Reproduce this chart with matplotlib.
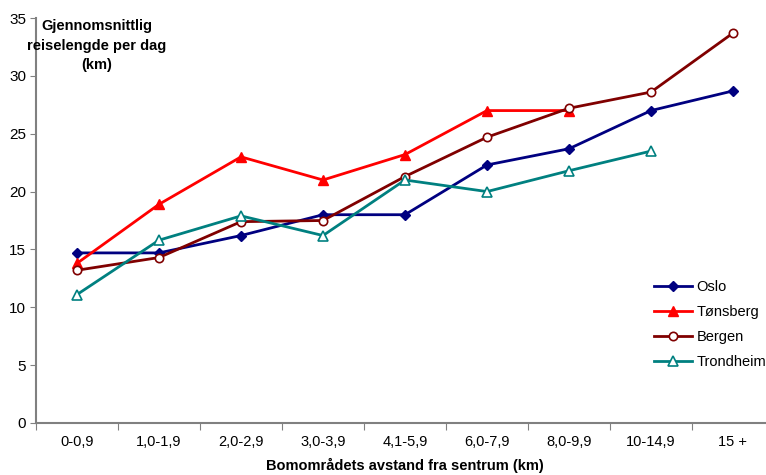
import numpy as np
import matplotlib.pyplot as plt

plt.rcParams['font.family'] = ['Liberation Sans', 'DejaVu Sans']

categories = ["0-0,9", "1,0-1,9", "2,0-2,9", "3,0-3,9", "4,1-5,9",
              "6,0-7,9", "8,0-9,9", "10-14,9", "15 +"]

oslo = [14.7, 14.7, 16.2, 18.0, 18.0, 22.3, 23.7, 27.0, 28.7]
tonsberg = [13.8, 18.9, 23.0, 21.0, 23.2, 27.0, 27.0]
bergen = [13.2, 14.3, 17.4, 17.5, 21.3, 24.7, 27.2, 28.6, 33.7]
trondheim = [11.1, 15.8, 17.9, 16.2, 21.0, 20.0, 21.8, 23.5]

fig = plt.figure(figsize=(7.66, 4.75), dpi=100)
ax = fig.add_axes([36 / 766, 52 / 475, 738 / 766, 405 / 475])

x = np.arange(len(categories))
ax.plot(x[:len(oslo)], oslo, color='#000080', marker='D', markersize=5,
        linewidth=2, label='Oslo')
ax.plot(x[:len(tonsberg)], tonsberg, color='#FF0000', marker='^', markersize=7,
        linewidth=2, label='Tønsberg')
ax.plot(x[:len(bergen)], bergen, color='#800000', marker='o', markersize=6,
        markerfacecolor='white', markeredgewidth=1.2, linewidth=2, label='Bergen')
ax.plot(x[:len(trondheim)], trondheim, color='#008080', marker='^', markersize=7,
        markerfacecolor='white', markeredgewidth=1.2, linewidth=2, label='Trondheim')

ax.set_xlim(-0.5, len(categories) - 0.5)
ax.set_ylim(0, 35)
ax.set_yticks(range(0, 36, 5))

# boundaries get the tick marks, category centres get the labels
ax.set_xticks(np.arange(-0.5, len(categories), 1.0))
ax.set_xticklabels([])
ax.set_xticks(x, minor=True)
ax.set_xticklabels(categories, minor=True, fontsize=10.5)
ax.tick_params(axis='x', which='minor', length=0, pad=9)
ax.tick_params(axis='x', which='major', length=5, color='#808080', direction='out')
ax.tick_params(axis='y', length=4, color='#808080', labelsize=11, pad=3)

for side in ('top', 'right'):
    ax.spines[side].set_visible(False)
for side in ('left', 'bottom'):
    ax.spines[side].set_color('#808080')
    ax.spines[side].set_linewidth(1.5)

ax.text(0.082, 0.997, "Gjennomsnittlig\nreiselengde per dag\n(km)",
        transform=ax.transAxes, ha='center', va='top', fontsize=10.5,
        fontweight='bold', linespacing=1.5)
ax.set_xlabel("Bomområdets avstand fra sentrum (km)", fontsize=10.5,
              fontweight='bold', labelpad=6)

ax.legend(loc='upper left', bbox_to_anchor=(0.82, 0.385), frameon=False,
          fontsize=10.5, handlelength=2.6, labelspacing=0.75, handletextpad=0.3)

fig.savefig('out.png', dpi=100)
